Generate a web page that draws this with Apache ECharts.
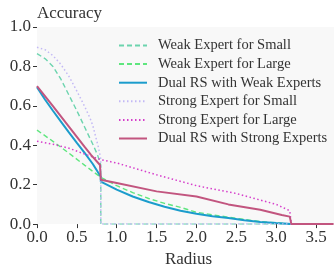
<!DOCTYPE html>
<html><head><meta charset="utf-8">
<script src="https://cdn.jsdelivr.net/npm/echarts@6/dist/echarts.min.js"></script>
<style>html,body{margin:0;padding:0;background:#fff}#c{width:334px;height:273px}</style>
</head><body><div id="c"></div>
<script>
var xTicks = [0, 0.5, 1.0, 1.5, 2.0, 2.5, 3.0, 3.5];
var yTicks = [0, 0.2, 0.4, 0.6, 0.8, 1.0];
var seriesNames = ['Weak Expert for Small', 'Weak Expert for Large', 'Dual RS with Weak Experts',
  'Strong Expert for Small', 'Strong Expert for Large', 'Dual RS with Strong Experts'];

var weakSmallR   = [0, 0.1, 0.2, 0.3, 0.4, 0.5, 0.6, 0.7, 0.76, 0.8, 0.8, 3.2];
var weakSmallAcc = [0.865, 0.84, 0.80, 0.735, 0.655, 0.575, 0.49, 0.405, 0.35, 0.30, 0, 0];

var weakLargeR   = [0, 0.2, 0.4, 0.6, 0.8, 1.0, 1.2, 1.4, 1.6, 1.8, 2.0, 2.4, 2.8, 3.19];
var weakLargeAcc = [0.477, 0.42, 0.36, 0.298, 0.237, 0.195, 0.16, 0.13, 0.105, 0.085, 0.06, 0.035, 0.013, 0];

var dualWeakR   = [0, 0.1, 0.2, 0.3, 0.4, 0.5, 0.6, 0.7, 0.8, 0.8, 1.0, 1.2, 1.4, 1.6, 1.8, 2.0, 2.2, 2.4, 2.6, 2.8, 3.0, 3.19];
var dualWeakAcc = [0.695, 0.632, 0.575, 0.52, 0.465, 0.412, 0.36, 0.305, 0.24, 0.215, 0.175, 0.14, 0.112, 0.088, 0.068, 0.052, 0.04, 0.031, 0.02, 0.011, 0.005, 0];

var strongSmallR   = [0, 0.1, 0.2, 0.3, 0.4, 0.5, 0.6, 0.665, 0.7, 0.77, 0.8, 0.8, 3.2];
var strongSmallAcc = [0.897, 0.885, 0.855, 0.81, 0.75, 0.675, 0.595, 0.538, 0.50, 0.39, 0.33, 0, 0];

var strongLargeR   = [0, 0.2, 0.4, 0.6, 0.8, 1.0, 1.5, 2.0, 2.5, 2.8, 3.0, 3.17, 3.19, 3.19];
var strongLargeAcc = [0.42, 0.405, 0.385, 0.355, 0.327, 0.31, 0.25, 0.195, 0.155, 0.122, 0.10, 0.068, 0.065, 0];

var dualStrongR   = [0, 0.2, 0.4, 0.6, 0.68, 0.79, 0.8, 0.8, 1.0, 1.5, 2.0, 2.4, 2.8, 3.07, 3.17, 3.19, 3.19, 3.72];
var dualStrongAcc = [0.70, 0.598, 0.495, 0.39, 0.35, 0.30, 0.30, 0.225, 0.208, 0.166, 0.14, 0.10, 0.073, 0.046, 0.038, 0.036, 0, 0];

function pairs(r, a) { return r.map(function (v, i) { return [v, a[i]]; }); }

var font = 'serif';
var txt = '#333333';
var styles = [
  {color: '#6cd4ae', width: 1.4, type: [5, 3]},
  {color: '#5ee67e', width: 1.4, type: [5, 3]},
  {color: '#1b9ccc', width: 2, type: 'solid'},
  {color: '#c3b9f5', width: 1.5, type: [1.5, 2.5]},
  {color: '#d63ecb', width: 1.5, type: [1.5, 2.5]},
  {color: '#c2557f', width: 2, type: 'solid'}
];
var dataSets = [
  pairs(weakSmallR, weakSmallAcc), pairs(weakLargeR, weakLargeAcc), pairs(dualWeakR, dualWeakAcc),
  pairs(strongSmallR, strongSmallAcc), pairs(strongLargeR, strongLargeAcc), pairs(dualStrongR, dualStrongAcc)
];

var chart = echarts.init(document.getElementById('c'), null, {renderer: 'canvas'});
chart.setOption({
  animation: false,
  textStyle: {fontFamily: font},
  grid: {left: 37, right: 0, top: 27, bottom: 44, show: true, backgroundColor: '#f8f8f8', borderWidth: 0},
  legend: {
    left: 118, top: 38, padding: 0, orient: 'vertical', itemWidth: 28, itemHeight: 10, itemGap: 3.6,
    itemStyle: {opacity: 0},
    textStyle: {fontFamily: font, fontSize: 14.5, color: txt, padding: [0, 0, 0, 6]},
    data: seriesNames
  },
  xAxis: {
    type: 'value', min: 0, max: 3.725,
    name: 'Radius', nameLocation: 'middle', nameGap: 24,
    nameTextStyle: {fontFamily: font, fontSize: 17, color: txt, padding: [0, 0, 0, 6]},
    axisLine: {show: false},
    splitLine: {show: false},
    axisTick: {show: true, length: 4, inside: false, customValues: xTicks, lineStyle: {color: '#333'}},
    axisLabel: {customValues: xTicks, margin: 5, fontFamily: font, fontSize: 17, color: txt,
      formatter: function (v) { return v.toFixed(1); }}
  },
  yAxis: {
    type: 'value', min: 0, max: 1.0,
    name: 'Accuracy', nameLocation: 'end', nameGap: 5,
    nameTextStyle: {fontFamily: font, fontSize: 17, color: txt, align: 'left', verticalAlign: 'bottom'},
    axisLine: {show: false},
    splitLine: {show: false},
    axisTick: {show: true, length: 4, inside: false, customValues: yTicks, lineStyle: {color: '#333'}},
    axisLabel: {customValues: yTicks, margin: 6, fontFamily: font, fontSize: 17, color: txt,
      formatter: function (v) { return v.toFixed(1); }}
  },
  series: seriesNames.map(function (n, i) {
    return {
      name: n, type: 'line', symbol: 'none', data: dataSets[i],
      lineStyle: {color: styles[i].color, width: styles[i].width, type: styles[i].type},
      itemStyle: {color: styles[i].color}
    };
  })
});
</script></body></html>
